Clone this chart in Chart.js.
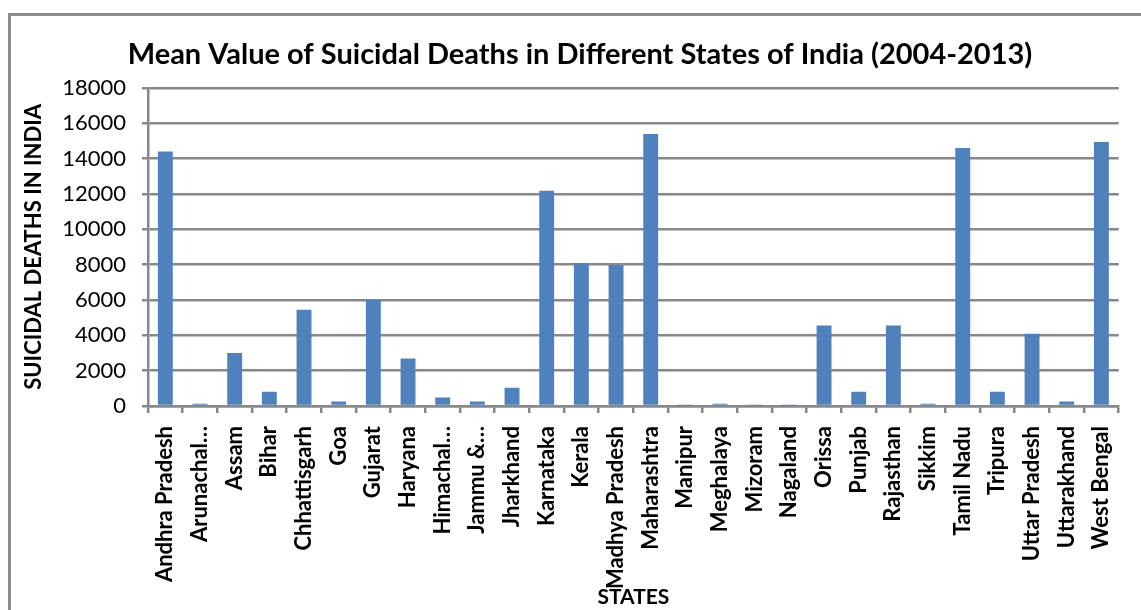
<!DOCTYPE html>
<html lang="en">
<head>
    <meta charset="UTF-8">
    <title>Mean Value of Suicidal Deaths</title>
    <script src="https://cdn.jsdelivr.net/npm/chart.js"></script>
    <style>
        body {
            margin: 0;
            background-color: #ffffff;
        }
        #myChart {
            display: block;
        }
    </style>
</head>
<body>
    <canvas id="myChart" width="1141" height="610"></canvas>
    <script>
        const states = [
            'Andhra Pradesh', 'Arunachal…', 'Assam', 'Bihar', 'Chhattisgarh', 'Goa',
            'Gujarat', 'Haryana', 'Himachal…', 'Jammu &…', 'Jharkhand', 'Karnataka',
            'Kerala', 'Madhya Pradesh', 'Maharashtra', 'Manipur', 'Meghalaya', 'Mizoram',
            'Nagaland', 'Orissa', 'Punjab', 'Rajasthan', 'Sikkim', 'Tamil Nadu',
            'Tripura', 'Uttar Pradesh', 'Uttarakhand', 'West Bengal'
        ];
        const meanDeaths = [
            14390, 130, 3000, 800, 5440, 250,
            6000, 2690, 480, 250, 1030, 12180,
            8090, 7970, 15380, 30, 130, 40,
            30, 4550, 800, 4550, 130, 14600,
            800, 4090, 250, 14940
        ];
        const yTicks = [0, 2000, 4000, 6000, 8000, 10000, 12000, 14000, 16000, 18000];

        const gridGray = '#888888';
        const fontFamily = 'Lato, "Open Sans", sans-serif';

        // white background plus the grey outer frame (top and left edges)
        const framePlugin = {
            id: 'frame',
            beforeDraw(chart) {
                const c = chart.ctx;
                c.save();
                c.fillStyle = '#ffffff';
                c.fillRect(0, 0, chart.width, chart.height);
                c.strokeStyle = '#8c8c8c';
                c.lineWidth = 3;
                c.beginPath();
                c.moveTo(9.5, chart.height);
                c.lineTo(9.5, 14.5);
                c.lineTo(chart.width, 14.5);
                c.stroke();
                c.restore();
            }
        };

        const ctx = document.getElementById('myChart').getContext('2d');
        const myChart = new Chart(ctx, {
            type: 'bar',
            data: {
                labels: states,
                datasets: [{
                    label: 'Mean suicidal deaths',
                    data: meanDeaths,
                    backgroundColor: '#4f81bd',
                    borderWidth: 0,
                    barPercentage: 0.43,
                    categoryPercentage: 1.0
                }]
            },
            options: {
                responsive: false,
                animation: false,
                layout: {
                    padding: { left: 31, right: 12, top: 0, bottom: 0 }
                },
                plugins: {
                    legend: { display: false },
                    tooltip: { enabled: false },
                    title: {
                        display: true,
                        text: 'Mean Value of Suicidal Deaths in Different States of India (2004-2013)',
                        color: '#000000',
                        font: { family: fontFamily, size: 29, weight: 'bold' },
                        padding: { top: 37, bottom: 16 }
                    }
                },
                scales: {
                    x: {
                        afterFit(scale) { scale.height = 204; },
                        grid: {
                            drawOnChartArea: false,
                            drawTicks: true,
                            tickLength: 7,
                            color: gridGray,
                            lineWidth: 2.5
                        },
                        border: { color: gridGray, width: 2.5 },
                        ticks: {
                            autoSkip: false,
                            minRotation: 90,
                            maxRotation: 90,
                            padding: 13,
                            color: '#000000',
                            font: { family: fontFamily, size: 22, weight: 'bold' }
                        },
                        title: {
                            display: true,
                            text: 'STATES',
                            color: '#000000',
                            font: { family: fontFamily, size: 21, weight: 'bold' },
                            padding: { top: 0, bottom: 0 }
                        }
                    },
                    y: {
                        min: 0,
                        max: 18000,
                        afterFit(scale) { scale.width = 117; },
                        afterBuildTicks(scale) {
                            scale.ticks = yTicks.map(v => ({ value: v }));
                        },
                        grid: {
                            color: gridGray,
                            lineWidth: 2.5,
                            tickLength: 6
                        },
                        border: { color: gridGray, width: 2.5 },
                        ticks: {
                            padding: 16,
                            color: '#000000',
                            font: { family: fontFamily, size: 22 },
                            callback: v => String(v)
                        },
                        title: {
                            display: true,
                            text: 'SUICIDAL DEATHS IN INDIA',
                            color: '#000000',
                            font: { family: fontFamily, size: 22, weight: 'bold' },
                            padding: { top: -10, bottom: 0 }
                        }
                    }
                }
            },
            plugins: [framePlugin]
        });
    </script>
</body>
</html>
